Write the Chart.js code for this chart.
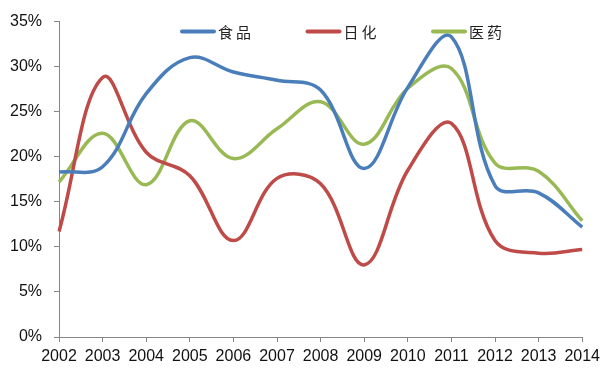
<!DOCTYPE html>
<html>
<head>
<meta charset="utf-8">
<script src="https://cdn.jsdelivr.net/npm/chart.js@4/dist/chart.umd.min.js"></script>
<style>
  html, body { margin: 0; padding: 0; background: #fff; }
  #wrap { width: 605px; height: 369px; }
</style>
</head>
<body>
<div id="wrap"><canvas id="c" width="605" height="369"></canvas></div>
<script>
// Growth rates by sector, in percent
const years = ['2002','2003','2004','2005','2006','2007','2008','2009','2010','2011','2012','2013','2014'];
const food     = [18.3, 18.9, 27.0, 31.0, 29.4, 28.5, 27.4, 18.7, 27.7, 33.3, 16.8, 16.0, 12.2];
const daily    = [11.7, 28.8, 20.5, 17.9, 10.7, 17.6, 17.0,  8.0, 18.5, 23.7, 10.7,  9.3,  9.7];
const medicine = [17.2, 22.6, 16.9, 24.0, 19.8, 23.1, 26.1, 21.4, 27.6, 29.8, 19.3, 18.4, 12.9];
const seriesNames = ['食品', '日化', '医药'];
const yTicks = [0, 5, 10, 15, 20, 25, 30, 35];

const colors = ['#4a7ebb', '#be4b48', '#98b954'];
const axisColor = '#868686';

// Legend drawn inside the plot area, near its top edge
const innerLegend = {
  id: 'innerLegend',
  afterDraw(chart) {
    const ctx = chart.ctx;
    const area = chart.chartArea;
    const y = area.top + 10;
    const start = area.left + 122;
    const step = 125.5;
    ctx.save();
    chart.data.datasets.forEach((ds, i) => {
      const x0 = start + i * step;
      ctx.strokeStyle = ds.borderColor;
      ctx.lineWidth = 4;
      ctx.lineCap = 'round';
      ctx.beginPath();
      ctx.moveTo(x0 + 1, y);
      ctx.lineTo(x0 + 33, y);
      ctx.stroke();
      ctx.fillStyle = '#222';
      ctx.font = '15px "Noto Sans CJK SC"';
      ctx.textBaseline = 'middle';
      ctx.textAlign = 'left';
      let tx = x0 + 37;
      for (const ch of ds.label) {
        ctx.fillText(ch, tx, y + 1);
        tx += 18;
      }
    });
    ctx.restore();
  }
};

const mkSet = (label, data, color) => ({
  label, data,
  borderColor: color,
  backgroundColor: color,
  borderWidth: 3.5,
  pointRadius: 0,
  pointHoverRadius: 0,
  tension: 0.38,
  fill: false
});

new Chart(document.getElementById('c'), {
  type: 'line',
  data: {
    labels: years,
    datasets: [
      mkSet(seriesNames[0], food, colors[0]),
      mkSet(seriesNames[1], daily, colors[1]),
      mkSet(seriesNames[2], medicine, colors[2])
    ]
  },
  options: {
    responsive: false,
    animation: false,
    events: [],
    layout: { padding: { top: 21, right: 20, left: 0, bottom: 0 } },
    plugins: { legend: { display: false }, tooltip: { enabled: false } },
    scales: {
      x: {
        offset: false,
        grid: { display: true, drawOnChartArea: false, tickLength: 5, color: axisColor, tickColor: axisColor },
        border: { display: true, color: axisColor, width: 1 },
        ticks: {
          color: '#111', font: { family: 'Liberation Sans, Arial', size: 16 },
          padding: 5, maxRotation: 0, autoSkip: false
        },
        afterFit(s) { s.height = 32; }
      },
      y: {
        min: 0, max: 35,
        afterBuildTicks(s) { s.ticks = yTicks.map(v => ({ value: v })); },
        grid: { display: true, drawOnChartArea: false, tickLength: 5, color: axisColor, tickColor: axisColor },
        border: { display: true, color: axisColor, width: 1 },
        ticks: {
          color: '#111', font: { family: 'Liberation Sans, Arial', size: 16 },
          padding: 12,
          callback: v => v + '%'
        },
        afterFit(s) { s.width = 59; }
      }
    }
  },
  plugins: [innerLegend]
});
</script>
</body>
</html>
